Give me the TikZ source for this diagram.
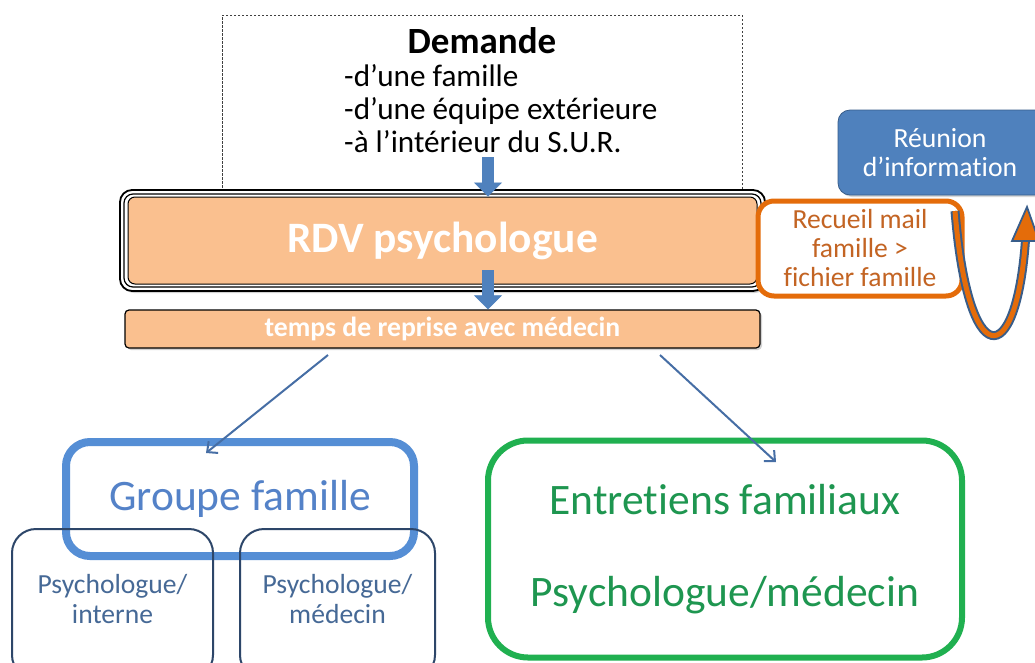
\documentclass[tikz,border=0pt]{standalone}
\usepackage{fontspec}
\setmainfont{Carlito}[Ligatures=NoCommon]
\usetikzlibrary{arrows.meta,shadows,calc}
\definecolor{peach}{RGB}{250,192,143}
\definecolor{ablue}{RGB}{79,129,189}
\definecolor{dblue}{RGB}{56,93,138}
\definecolor{gblue}{RGB}{85,142,213}
\definecolor{gtext}{RGB}{84,130,200}
\definecolor{pborder}{RGB}{45,70,105}
\definecolor{ptext}{RGB}{70,105,150}
\definecolor{lblue}{RGB}{70,110,165}
\definecolor{ggreen}{RGB}{32,176,80}
\definecolor{gtxt}{RGB}{30,150,80}
\definecolor{oorange}{RGB}{228,108,10}
\definecolor{otext}{RGB}{195,100,35}
\tikzset{
  blockarrow/.style={draw=ablue, line width=12pt, -{Triangle[width=28pt,length=14pt,line width=0.6pt]}},
  thinarrow/.style={draw=lblue, line width=2pt, -{Straight Barb[length=8pt,width=15pt,line width=2pt]}},
  peachbox/.style={fill=peach, draw=black, rounded corners=4pt, drop shadow={opacity=0.35,shadow xshift=2pt,shadow yshift=-2pt}},
  psybox/.style={draw=pborder, line width=2pt, rounded corners=24pt, minimum height=150pt, inner sep=0pt, align=center, text=ptext, font=\fontsize{27.6}{30}\selectfont},
}
\begin{document}
\begin{tikzpicture}[x=1pt,y=-1pt]
\useasboundingbox (0,0) rectangle (1035,662);
\fill[white] (0,0) rectangle (1035,662);
% Demande
\node[draw=black!75, dash pattern=on 2.5pt off 1.5pt, line width=0.9pt, minimum width=520pt, minimum height=182pt, inner sep=0pt] (dem) at (482,106) {};
\node[font=\fontsize{37}{40}\selectfont\bfseries] (demt) at (482,41) {Demande};
\node[anchor=west, align=left, font=\fontsize{31.2}{33}\selectfont, inner sep=0pt] (lines) at (344,109) {-d’une famille\\-d’une équipe extérieure\\-à l’intérieur du S.U.R.};
% RDV
\draw[line width=1.8pt, rounded corners=12pt, fill=white, drop shadow={opacity=0.35,shadow xshift=2pt,shadow yshift=-2pt}] (120,190) rectangle (765,291);
\draw[line width=1.2pt, rounded corners=9pt] (124,194) rectangle (761,287);
\node[fill=peach, draw=black, line width=1pt, rounded corners=7pt, minimum width=629pt, minimum height=87pt, inner sep=0pt, text=white, font=\fontsize{43.4}{46}\selectfont\bfseries] (rdv) at (442.5,240.5) {RDV psychologue};
% temps
\node[peachbox, line width=1.2pt, minimum width=635pt, minimum height=38pt, inner sep=0pt, text=white, font=\fontsize{27.7}{29}\selectfont\bfseries] (temps) at (442.5,329) {temps de reprise avec médecin};
% block arrows
\coordinate (a1s) at (488,157);
\coordinate (a2s) at (488,270);
\draw[blockarrow] (a1s) -- (a1s |- rdv.north);
\draw[blockarrow] (a2s) -- (a2s |- temps.north);
% Recueil
\node[draw=oorange, line width=5pt, rounded corners=16pt, fill=white, minimum width=204pt, minimum height=95pt, inner sep=0pt, align=center, text=otext, font=\fontsize{27.6}{29}\selectfont] (rec) at (860,248.5) {Recueil mail\\famille >\\fichier famille};
% Reunion
\node[fill=ablue, draw=dblue, line width=0.8pt, rounded corners=12pt, minimum width=224pt, minimum height=85pt, inner sep=0pt, text width=204pt, align=center, text=white, font=\fontsize{27.7}{29.5}\selectfont, drop shadow={opacity=0.3,shadow xshift=2pt,shadow yshift=-2pt}] (reu) at (950,152.5) {\hspace*{-20pt}Réunion\\\hspace*{-20pt}d’information};
% U arrow
\coordinate (us) at (955,211);
\coordinate (ue) at (1025.5,240);
\coordinate (ut) at (1027,207);
\draw[dblue, line width=9pt] (us) .. controls (968,372) and (1016,372) .. (ue);
\draw[oorange, line width=5pt] (us) .. controls (968,372) and (1016,372) .. (ue);
\filldraw[fill=oorange, draw=dblue, line width=1.8pt, line join=miter] ($(ue)+(-13.5,1)$) -- (ut) -- ($(ue)+(13.5,1)$) -- cycle;
% Groupe famille
\node[draw=gblue, line width=8pt, rounded corners=24pt, minimum width=348pt, minimum height=114pt, inner sep=0pt, text=gtext, font=\fontsize{43.5}{46}\selectfont] (grp) at (240,499) {Groupe famille};
\node[psybox, minimum width=201pt] (psy1) at (112.5,604) {Psychologue/\\interne\\[-28pt]\strut};
\node[psybox, minimum width=195pt] (psy2) at (337.5,604) {Psychologue/\\médecin\\[-28pt]\strut};
% Entretiens
\node[draw=ggreen, line width=6pt, rounded corners=40pt, minimum width=474pt, minimum height=217pt, inner sep=0pt, align=center, text=gtxt, font=\fontsize{43.5}{92}\selectfont] (ent) at (725,549) {Entretiens familiaux\\Psychologue/médecin};
% thin arrows
\coordinate (t1s) at (328,355);
\coordinate (t1e) at (206,453);
\coordinate (t2s) at (660,355);
\coordinate (t2e) at (776,462);
\draw[thinarrow] (t1s) -- (t1e);
\draw[thinarrow] (t2s) -- (t2e);
\end{tikzpicture}
\end{document}
